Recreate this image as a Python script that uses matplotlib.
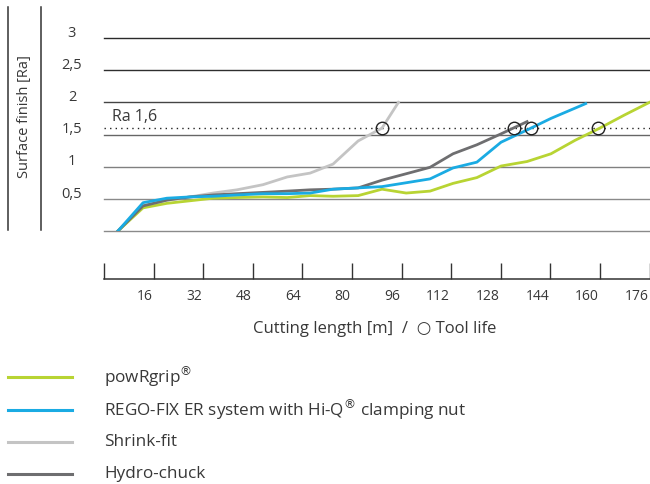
import matplotlib
matplotlib.use("Agg")
import matplotlib.pyplot as plt
from matplotlib.lines import Line2D
from matplotlib.transforms import blended_transform_factory

plt.rcParams['font.family'] = ['Open Sans', 'DejaVu Sans']

# cutting length positions [m]
x_pts = [4.5, 12.6, 20.3, 27.8, 35.2, 42.9, 51.3, 59.1, 66.5, 73.9, 82.0, 89.7,
         97.5, 105.2, 112.6, 120.3, 128.1, 136.5, 144.2, 152.0, 160.0, 167.8, 176.0]

powrgrip = [0, 0.36, 0.43, 0.47, 0.51, 0.52, 0.53, 0.52, 0.55, 0.54, 0.55, 0.65,
            0.59, 0.62, 0.74, 0.83, 1.01, 1.08, 1.20, 1.41, 1.60, 1.80, 2.0]
rego_x = x_pts[:20] + [155.4]
rego = [0, 0.44, 0.51, 0.53, 0.54, 0.56, 0.58, 0.58, 0.59, 0.65, 0.67, 0.69,
        0.75, 0.81, 0.98, 1.07, 1.38, 1.57, 1.75, 1.91, 1.98]
shrink_x = x_pts[:12] + [95.0]
shrink = [0, 0.39, 0.48, 0.53, 0.59, 0.64, 0.72, 0.84, 0.90, 1.04, 1.40, 1.60, 2.0]
hydro_x = x_pts[:18]
hydro = [0, 0.39, 0.48, 0.53, 0.56, 0.58, 0.60, 0.62, 0.64, 0.65, 0.67, 0.79,
         0.89, 0.99, 1.20, 1.34, 1.51, 1.70]

tool_life_x = [89.7, 132.3, 137.8, 159.4]
ra_limit = 1.6

y_ticks = [0.5, 1, 1.5, 2, 2.5, 3]
y_labels = ["0,5", "1", "1,5", "2", "2,5", "3"]
x_ticks = list(range(0, 177, 16))

names = ["powRgrip$^{\u00ae}$",
         "REGO-FIX ER system with Hi-Q$^{\u00ae}$ clamping nut",
         "Shrink-fit", "Hydro-chuck"]
colors = ["#b8d433", "#1aabe3", "#c4c4c4", "#6e6e70"]
txt = "#383838"

W, H = 650, 484
fig = plt.figure(figsize=(W / 100, H / 100), dpi=100)

def fx(px):
    return px / W

def fy(py):
    return 1 - py / H

ax = fig.add_axes([fx(104), fy(231), fx(649.5) - fx(104), fy(38) - fy(231)])
ax.set_xlim(0, 176)
ax.set_ylim(0, 3)
ax.axis("off")

grid_cols = {0: "#8a8a8a", 0.5: "#8a8a8a", 1: "#808080", 1.5: "#666666",
             2: "#444444", 2.5: "#2e2e2e", 3: "#2a2a2a"}
for v, c in grid_cols.items():
    ax.axhline(v, color=c, lw=1.0, zorder=1, clip_on=False)
ax.axhline(ra_limit, color="#222222", lw=1.0, ls=(0, (1, 3)), zorder=1.5)
ax.text(2.5, ra_limit + 0.05, "Ra 1,6", fontsize=11.5, color=txt, va="bottom", ha="left")

ax.plot(shrink_x, shrink, color=colors[2], lw=2, zorder=2, solid_joinstyle="round")
ax.plot(x_pts, powrgrip, color=colors[0], lw=2, zorder=2.1, solid_joinstyle="round")
ax.plot(hydro_x, hydro, color=colors[3], lw=2, zorder=2.2, solid_joinstyle="round")
ax.plot(rego_x, rego, color=colors[1], lw=2, zorder=2.3, solid_joinstyle="round")
ax.plot(tool_life_x, [ra_limit] * len(tool_life_x), "o", mfc="none", mec="#222222",
        ms=9, mew=1, zorder=3, clip_on=False)

# y tick labels, slightly above each gridline
ytr = blended_transform_factory(fig.transFigure, ax.transData)
for v, lab in zip(y_ticks, y_labels):
    fig.text(fx(72), v + 0.075, lab, transform=ytr, fontsize=10.5, color=txt,
             ha="center", va="center")

fig.text(fx(25), fy(117), "Surface finish [Ra]", rotation=90, fontsize=10.5,
         color=txt, ha="center", va="center")
for px in (8.3, 40.7):
    fig.add_artist(Line2D([fx(px), fx(px)], [fy(7), fy(230)], color="#333333", lw=1.1))

# separate cutting length axis
ax2 = fig.add_axes([fx(104), fy(279), fx(649.5) - fx(104), fy(263) - fy(279)])
ax2.set_xlim(0, 176)
ax2.set_ylim(0, 1)
for s in ("top", "left", "right"):
    ax2.spines[s].set_visible(False)
ax2.spines["bottom"].set_color("#333333")
ax2.spines["bottom"].set_linewidth(1.1)
ax2.set_yticks([])
ax2.set_xticks(x_ticks)
ax2.set_xticklabels([])
ax2.tick_params(axis="x", direction="in", length=11.5, width=1, color="#333333")
ax2.patch.set_visible(False)

xtr = blended_transform_factory(ax2.transData, fig.transFigure)
for t in x_ticks[1:]:
    ax2.text(t - 0.4, fy(297), str(t), transform=xtr, fontsize=10, color=txt,
             ha="right", va="center")

fig.text(fx(375), fy(329), "Cutting length [m]  /  \u25cb Tool life", fontsize=12,
         color=txt, ha="center", va="center")

# legend
leg_y = [377, 410, 442, 474]
for ly, c, n in zip(leg_y, colors, names):
    fig.add_artist(Line2D([fx(8), fx(72)], [fy(ly), fy(ly)], color=c, lw=2.2))
    fig.text(fx(104), fy(ly), n, fontsize=12.3, color=txt, ha="left", va="center")

fig.savefig("out.png", dpi=100)
